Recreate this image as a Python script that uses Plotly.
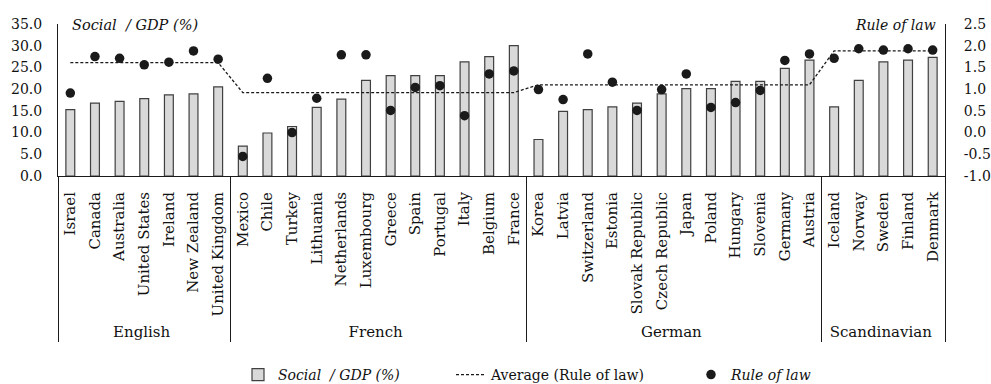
import plotly.graph_objects as go

# ---------------- data ----------------
group_names = ["English", "French", "German", "Scandinavian"]
english = ["Israel", "Canada", "Australia", "United States", "Ireland", "New Zealand", "United Kingdom"]
french = ["Mexico", "Chile", "Turkey", "Lithuania", "Netherlands", "Luxembourg", "Greece", "Spain",
          "Portugal", "Italy", "Belgium", "France"]
german = ["Korea", "Latvia", "Switzerland", "Estonia", "Slovak Republic", "Czech Republic", "Japan",
          "Poland", "Hungary", "Slovenia", "Germany", "Austria"]
scandinavian = ["Iceland", "Norway", "Sweden", "Finland", "Denmark"]

social_gdp = [15.3, 16.8, 17.2, 17.8, 18.7, 18.9, 20.5,
              6.9, 9.9, 11.4, 15.8, 17.7, 22.0, 23.1, 23.1, 23.1, 26.3, 27.5, 30.0,
              8.4, 14.9, 15.3, 15.9, 16.8, 18.9, 20.1, 20.1, 21.8, 21.8, 24.8, 26.7,
              15.9, 22.0, 26.3, 26.7, 27.3]
rule_of_law = [0.91, 1.75, 1.71, 1.56, 1.62, 1.88, 1.69,
               -0.55, 1.25, 0.0, 0.79, 1.79, 1.79, 0.51, 1.04, 1.08, 0.39, 1.35, 1.42,
               0.99, 0.76, 1.81, 1.16, 0.51, 0.99, 1.35, 0.58, 0.69, 0.97, 1.66, 1.81,
               1.71, 1.93, 1.90, 1.93, 1.90]
group_average = {"English": 1.61, "French": 0.92, "German": 1.10, "Scandinavian": 1.88}

left_ticks = [0, 5, 10, 15, 20, 25, 30, 35]
left_labels = ["0.0", "5.0", "10.0", "15.0", "20.0", "25.0", "30.0", "35.0"]
right_ticks = [-1.0, -0.5, 0.0, 0.5, 1.0, 1.5, 2.0, 2.5]
right_labels = ["-1.0", "-0.5", "0.0", "0.5", "1.0", "1.5", "2.0", "2.5"]

# ---------------- build ----------------
members = [english, french, german, scandinavian]
outer, inner, avg_line = [], [], []
for g, lst in zip(group_names, members):
    for c in lst:
        outer.append(g)
        inner.append(c)
        avg_line.append(group_average[g])

FONT = "DejaVu Serif"
TXT = "#111111"
W, H = 991, 384

fig = go.Figure()
fig.add_trace(go.Bar(
    x=[outer, inner], y=social_gdp, name="<i>Social  / GDP (%)</i>",
    marker=dict(color="#d9d9d9", line=dict(color="#404040", width=1.2)),
    yaxis="y", legend="legend",
))
fig.add_trace(go.Scatter(
    x=[outer, inner], y=avg_line, name="Average (Rule of law)", mode="lines",
    line=dict(color="#1a1a1a", width=1.3, dash="3px,2px"), yaxis="y2", legend="legend2",
))
fig.add_trace(go.Scatter(
    x=[outer, inner], y=rule_of_law, name="<i>Rule of law</i>", mode="markers",
    marker=dict(color="#1a1a1a", size=9.5), yaxis="y2", legend="legend3",
))

leg_common = dict(orientation="h", xref="container", yref="container", xanchor="left",
                  yanchor="middle", y=1 - 375 / H, font=dict(size=14, family=FONT, color=TXT),
                  bgcolor="rgba(0,0,0,0)")

fig.update_layout(
    width=W, height=H,
    margin=dict(l=58, r=46, t=24, b=208, autoexpand=False),
    paper_bgcolor="white", plot_bgcolor="white",
    font=dict(family=FONT, size=14, color=TXT),
    bargap=0.64,
    showlegend=True,
    legend=dict(x=238 / W, **leg_common),
    legend2=dict(x=451 / W, **leg_common),
    legend3=dict(x=691 / W, **leg_common),
    xaxis=dict(type="multicategory", showline=True, linecolor="#1a1a1a", linewidth=1,
               tickangle=-90, ticks="", showgrid=False, showdividers=True,
               dividercolor="#1a1a1a", dividerwidth=1, automargin=False,
               range=[-0.5, 35.5], ticklabelstandoff=9,
               tickfont=dict(size=15, family=FONT, color=TXT)),
    yaxis=dict(range=[0, 35], tickvals=left_ticks, ticktext=left_labels, showline=True,
               linecolor="#1a1a1a", linewidth=1, showgrid=False, zeroline=False, ticks="",
               ticklabelstandoff=12, automargin=False,
               tickfont=dict(size=14, family=FONT, color=TXT)),
    yaxis2=dict(range=[-1, 2.5], tickvals=right_ticks, ticktext=right_labels, overlaying="y",
                side="right", showline=True, linecolor="#1a1a1a", linewidth=1,
                showgrid=False, zeroline=False, ticks="", ticklabelstandoff=15,
                automargin=False, tickfont=dict(size=14, family=FONT, color=TXT)),
    annotations=[
        dict(text="<i>Social  / GDP (%)</i>", xref="paper", yref="paper", x=0.0135, y=0.993,
             xanchor="left", yanchor="middle", showarrow=False,
             font=dict(size=14.5, family=FONT, color=TXT)),
        dict(text="<i>Rule of law</i>", xref="paper", yref="paper", x=0.992, y=0.993,
             xanchor="right", yanchor="middle", showarrow=False,
             font=dict(size=14, family=FONT, color=TXT)),
    ],
)

fig.write_html("out.html", config={"displayModeBar": False},
               post_script="document.body.style.margin='0';document.body.style.overflow='hidden';")
